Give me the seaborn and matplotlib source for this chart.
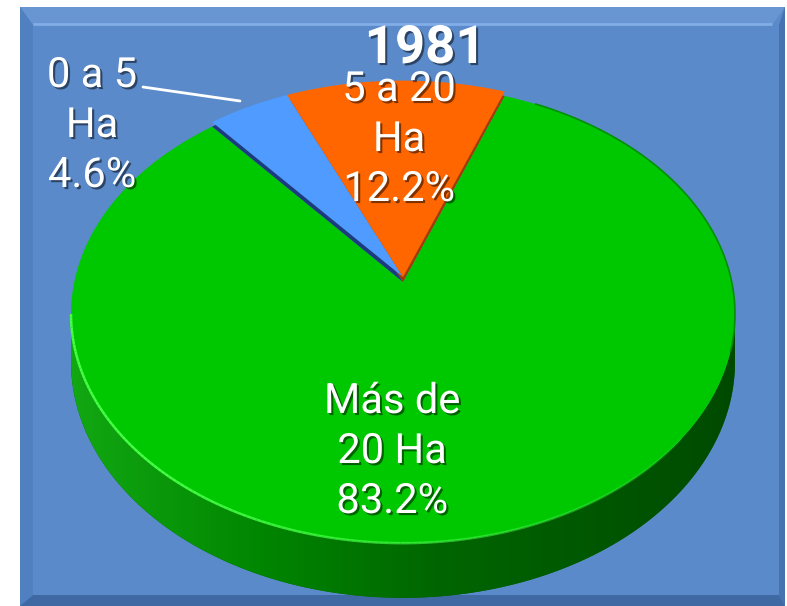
import numpy as np
import matplotlib
matplotlib.use("Agg")
import matplotlib.pyplot as plt
import seaborn as sns
from matplotlib.transforms import Transform
from matplotlib.patches import Wedge, Polygon, Rectangle
from matplotlib.colors import LinearSegmentedColormap, to_rgba
from matplotlib.collections import LineCollection
import matplotlib.patheffects as pe

# ---------------- data ----------------
categories = ["0 a 5\nHa", "5 a 20\nHa", "Más de\n20 Ha"]
shares = [4.6, 12.2, 83.2]
pct_labels = ["4.6%", "12.2%", "83.2%"]
title = "1981"

# ---------------- style ----------------
top_colors = ["#4f9bff", "#ff6600", "#00c800"]
edge_colors = ["#1c3b7e", "#a03c00", "#006400"]
panel_color = "#5a8ac9"

sns.set_theme(style="white")
plt.rcParams['font.family'] = ['Roboto', 'DejaVu Sans']

W, H = 787, 606
fig = plt.figure(figsize=(W / 100, H / 100), dpi=100)
ax = fig.add_axes([0, 0, 1, 1])

# perspective projection of the unit disk onto the figure (pixel units)
XC, YC, A, B, P = 403.0, 282.0, 328.7, 224.6, 0.14
THICK = 47.0


def project(u, v, drop=0.0):
    w = 1 + P * v
    return XC + A * u / w, YC - B * v / w + drop / w


class Persp(Transform):
    input_dims = output_dims = 2
    is_separable = False
    has_inverse = False

    def __init__(self, drop=0.0):
        super().__init__()
        self.drop = drop

    def transform_non_affine(self, values):
        values = np.asarray(values, float)
        x, y = project(values[:, 0], values[:, 1], self.drop)
        return np.column_stack([x, y])


# ---------------- panel ----------------
ax.add_patch(Rectangle((20, 7), 765, 599, facecolor=panel_color, edgecolor='none', zorder=0))
ax.add_patch(Polygon([(20, 7), (785, 7), (772, 25), (33, 25)], closed=True,
                     facecolor="#6896d3", edgecolor='none', zorder=0.1))
ax.plot([33, 772], [23.5, 23.5], color="#82ade6", lw=2.0, zorder=0.15, solid_capstyle='butt')
ax.add_patch(Polygon([(20, 7), (33, 25), (33, 595), (20, 606)], closed=True,
                     facecolor="#5080c0", edgecolor='none', zorder=0.1))
ax.add_patch(Polygon([(785, 7), (785, 606), (779, 595), (779, 25)], closed=True,
                     facecolor="#4673b0", edgecolor='none', zorder=0.1))
ax.add_patch(Polygon([(20, 606), (785, 606), (779, 595), (33, 595)], closed=True,
                     facecolor="#3f69a2", edgecolor='none', zorder=0.1))

# ---------------- pie (top faces) ----------------
wedges, _ = ax.pie(shares, colors=top_colors, startangle=130, counterclock=False,
                   radius=1.0, wedgeprops=dict(linewidth=0))

for i, w in enumerate(wedges):
    if i == 2:
        w.set_transform(Persp(0.0) + ax.transData)
        w.set_zorder(2)
    else:
        w.set_transform(Persp(-5.0) + ax.transData)
        w.set_zorder(4)
        # side faces of the raised slices
        side = Wedge((0, 0), 1.0, w.theta1, w.theta2, facecolor=edge_colors[i],
                     edgecolor='none', transform=Persp(0.0) + ax.transData, zorder=3)
        ax.add_patch(side)

# ---------------- cylinder side ----------------
ts = np.arcsin(P)
th = np.linspace(np.pi + ts, 2 * np.pi - ts, 200)
tx, ty = project(np.cos(th), np.sin(th), 0.0)
bx, by = project(np.cos(th[::-1]), np.sin(th[::-1]), THICK)
side_poly = Polygon(np.column_stack([np.r_[tx, bx], np.r_[ty, by]]), closed=True,
                    facecolor="#006400", edgecolor='none', zorder=1.5)
ax.add_patch(side_poly)
cmap = LinearSegmentedColormap.from_list(
    "side", [(0, "#12a812"), (0.3, "#008400"), (0.55, "#006600"), (1, "#004a00")])
grad = np.linspace(0, 1, 256)[None, :]
im = ax.imshow(grad, extent=(tx.min(), tx.max(), by.max(), ty.min()), cmap=cmap,
               aspect='auto', zorder=1.6, interpolation='bilinear')
im.set_clip_path(side_poly)

# rim highlight (front-left, fading) and dark rim (right)
hth = np.linspace(np.pi + ts, 1.78 * np.pi, 160)
hx, hy = project(np.cos(hth), np.sin(hth), 0.0)
segs = np.stack([np.column_stack([hx[:-1], hy[:-1]]), np.column_stack([hx[1:], hy[1:]])], axis=1)
alphas = np.clip(1.15 - np.linspace(0, 1, len(segs)) ** 1.5, 0, 1)
base = np.array(to_rgba("#45ff45"))
cols = np.tile(base, (len(segs), 1))
cols[:, 3] = alphas
ax.add_collection(LineCollection(segs, colors=cols, linewidths=1.8, zorder=2.5))
dth = np.linspace(-0.3, 0.35 * np.pi, 100)
dx, dy = project(np.cos(dth), np.sin(dth), 0.0)
ax.plot(dx, dy, color="#009000", lw=1.2, zorder=2.5)

# ---------------- labels ----------------
shadow = [pe.SimplePatchShadow(offset=(1.5, -1.5), shadow_rgbFace='black', alpha=0.5), pe.Normal()]
label_pos = [(92, 87), (399, 101), (392, 413)]   # centre x, first baseline (px)
LINE = 50
for cat, pct, (lx, ly) in zip(categories, pct_labels, label_pos):
    lines = cat.split("\n") + [pct]
    for k, line in enumerate(lines):
        ax.text(lx, ly + k * LINE, line, ha='center', va='baseline', fontsize=30,
                color='white', zorder=6, path_effects=shadow)

# leader line for the small slice
ax.plot([143, 240], [87, 101], color='white', lw=2, zorder=5, solid_capstyle='round')

ax.text(425, 63, title, ha='center', va='baseline', fontsize=38, fontweight='bold',
        color='white', zorder=6, path_effects=shadow)

ax.set_xlim(0, W)
ax.set_ylim(H, 0)
ax.set_aspect('auto')
ax.axis('off')
fig.savefig("out.png", dpi=100, facecolor='white')
